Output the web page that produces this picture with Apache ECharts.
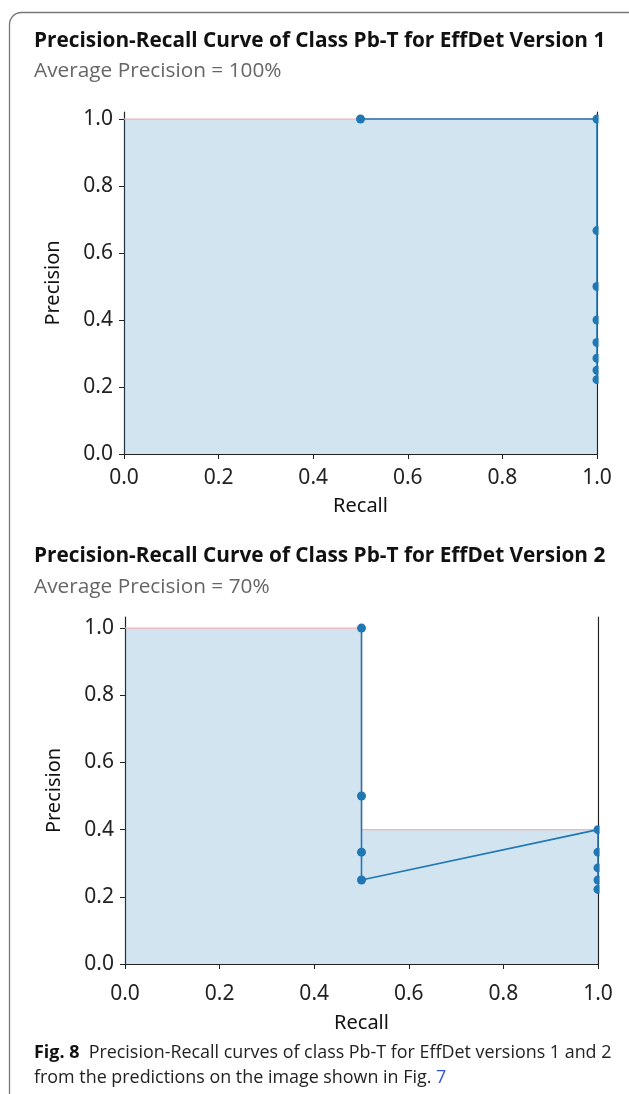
<!DOCTYPE html>
<html><head><meta charset="utf-8">
<script src="https://cdn.jsdelivr.net/npm/echarts@6/dist/echarts.min.js"></script>
<style>html,body{margin:0;padding:0;background:#fff}#c{width:629px;height:1094px}</style>
</head><body><div id="c"></div>
<script>
// ---- data ----
const titles = ['Precision-Recall Curve of Class Pb-T for EffDet Version 1', 'Precision-Recall Curve of Class Pb-T for EffDet Version 2'];
const subtitles = ['Average Precision = 100%', 'Average Precision = 70%'];
const recall1 = [0.5, 1, 1, 1, 1, 1, 1, 1, 1];
const precision1 = [1, 1, 0.667, 0.5, 0.4, 0.333, 0.286, 0.25, 0.222];
const interpRecall1 = [0, 0.5, 1];
const interpPrecision1 = [1, 1, 1];
const recall2 = [0.5, 0.5, 0.5, 0.5, 1, 1, 1, 1, 1];
const precision2 = [1, 0.5, 0.333, 0.25, 0.4, 0.333, 0.286, 0.25, 0.222];
const interpRecall2 = [0, 0.5, 0.5, 1];
const interpPrecision2 = [1, 1, 0.4, 0.4];
const tickValues = [0, 0.2, 0.4, 0.6, 0.8, 1.0];
const xName = 'Recall', yName = 'Precision';
const captionBold = 'Fig. 8';
const captionLine1 = 'Precision-Recall curves of class Pb-T for EffDet versions 1 and 2';
const captionLine2 = 'from the predictions on the image shown in Fig. ';
const captionRef = '7';

const zip = (a, b) => a.map((v, i) => [v, b[i]]);
const BLUE = '#1f77b4';
const tickFont = 'Noto Sans';
const grids = [
  {left: 124, top: 112, width: 473, height: 342, ymax: 1.021, labelMargin: 14, nameGap: 42},
  {left: 125, top: 617, width: 473, height: 347, ymax: 1.033, labelMargin: 20, nameGap: 49}
];
const xAxes = [], yAxes = [], series = [];
grids.forEach((g, i) => {
  xAxes.push({
    type: 'value', gridIndex: i, min: 0, max: 1, interval: 0.2,
    name: xName, nameLocation: 'middle', nameGap: g.nameGap,
    nameTextStyle: {fontFamily: tickFont, fontSize: 20, color: '#111'},
    axisLine: {show: true, lineStyle: {color: '#222', width: 1.2}},
    axisTick: {show: true, length: 5, lineStyle: {color: '#222'}},
    axisLabel: {fontFamily: tickFont, fontSize: 21, color: '#222', margin: g.labelMargin, formatter: v => v.toFixed(1)},
    splitLine: {show: false}
  });
  yAxes.push({
    type: 'value', gridIndex: i, min: 0, max: g.ymax,
    name: yName, nameLocation: 'middle', nameGap: 61,
    nameTextStyle: {fontFamily: tickFont, fontSize: 20, color: '#111'},
    axisLine: {show: true, onZero: false, lineStyle: {color: '#222', width: 1.2}},
    axisTick: {show: true, length: 5, customValues: tickValues, lineStyle: {color: '#222'}},
    axisLabel: {fontFamily: tickFont, fontSize: 21, color: '#222', margin: 11, customValues: tickValues, formatter: v => v.toFixed(1)},
    splitLine: {show: false}
  });
  yAxes.push({
    type: 'value', gridIndex: i, min: 0, max: g.ymax, position: 'right',
    axisLine: {show: true, onZero: false, lineStyle: {color: '#222', width: 1.2}},
    axisTick: {show: false}, axisLabel: {show: false}, splitLine: {show: false}
  });
});
const ix = [interpRecall1, interpRecall2], ip = [interpPrecision1, interpPrecision2];
const rx = [recall1, recall2], rp = [precision1, precision2];
[0, 1].forEach(i => {
  series.push({
    type: 'line', xAxisIndex: i, yAxisIndex: i * 2, data: zip(ix[i], ip[i]),
    symbol: 'none', lineStyle: {color: '#f5b3bb', width: 1.3},
    areaStyle: {color: BLUE, opacity: 0.2}, z: 1, silent: true
  });
  series.push({
    type: 'line', xAxisIndex: i, yAxisIndex: i * 2, data: zip(rx[i], rp[i]),
    symbol: 'circle', symbolSize: 9, clip: false,
    lineStyle: {color: BLUE, width: 1.6}, itemStyle: {color: BLUE}, z: 3, silent: true
  });
});

const graphic = [
  {type: 'rect', shape: {x: 9.5, y: 12.5, width: 700, height: 1200, r: [12, 0, 0, 0]}, style: {fill: 'none', stroke: '#777', lineWidth: 1.3}, z: 0},
  // mask symbols beyond the right spine, like matplotlib clipping
  {type: 'rect', shape: {x: 598.6, y: 100, width: 25, height: 353}, style: {fill: '#fff'}, z: 50},
  {type: 'rect', shape: {x: 599.6, y: 605, width: 25, height: 358}, style: {fill: '#fff'}, z: 50}
];
const titleY = [41, 556], subY = [71, 587];
[0, 1].forEach(i => {
  graphic.push({type: 'text', x: 34, y: titleY[i], style: {text: titles[i], fontFamily: 'Open Sans', fontWeight: 'bold', fontSize: 20.8, fill: '#111', textVerticalAlign: 'middle'}, z: 60});
  graphic.push({type: 'text', x: 34, y: subY[i], style: {text: subtitles[i], fontFamily: 'Open Sans', fontSize: 20.8, fill: '#666', textVerticalAlign: 'middle'}, z: 60});
});
graphic.push({type: 'text', x: 34, y: 1053, style: {
  text: '{b|' + captionBold + '}  ' + captionLine1,
  rich: {b: {fontFamily: 'Open Sans', fontWeight: 'bold', fontSize: 17.9, fill: '#111'}},
  fontFamily: 'Open Sans', fontSize: 17.9, fill: '#222', textVerticalAlign: 'middle'}, z: 60});
graphic.push({type: 'text', x: 34, y: 1078, style: {
  text: captionLine2 + '{r|' + captionRef + '}',
  rich: {r: {fontFamily: 'Open Sans', fontSize: 17.9, fill: '#2f55d4'}},
  fontFamily: 'Open Sans', fontSize: 17.9, fill: '#222', textVerticalAlign: 'middle'}, z: 60});

const chart = echarts.init(document.getElementById('c'), null, {renderer: 'canvas'});
chart.setOption({
  animation: false,
  grid: grids.map(g => ({left: g.left, top: g.top, width: g.width, height: g.height})),
  xAxis: xAxes, yAxis: yAxes, series: series, graphic: graphic
});
</script></body></html>
